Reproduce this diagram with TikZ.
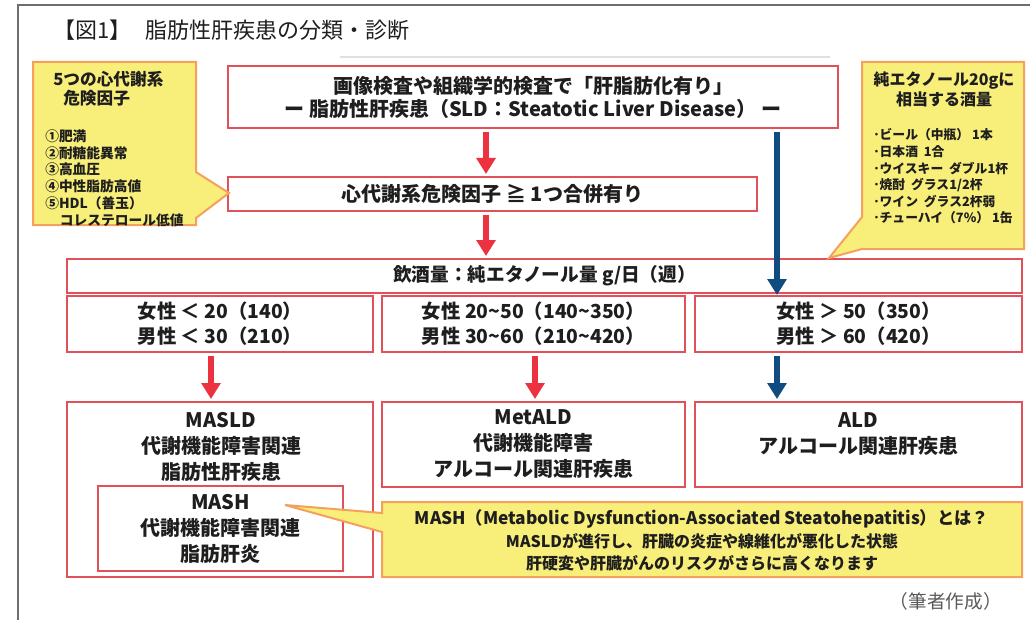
\documentclass[tikz,border=0pt]{standalone}
\usepackage{fontspec}
\newfontfamily\jp{Noto Sans CJK JP}
\usetikzlibrary{arrows.meta}
\newcommand\jfs[2]{\fontsize{#1}{#2}\selectfont}
\newcommand\tld{\char"007E\relax}
\definecolor{boxred}{RGB}{226,80,90}
\definecolor{arrred}{RGB}{236,50,64}
\definecolor{arrblue}{RGB}{16,76,128}
\definecolor{cyel}{RGB}{248,238,122}
\definecolor{corange}{RGB}{245,160,92}
\definecolor{framegrey}{RGB}{110,110,110}
\definecolor{txt}{RGB}{30,30,30}
\tikzset{
  rbox/.style={draw=boxred, line width=1.5pt, fill=white, inner sep=0pt},
  callout/.style={draw=corange, line width=1.5pt, fill=cyel, line join=miter},
  btxt/.style={font=\jp\bfseries, text=txt, align=center, inner sep=0pt},
  ltxt/.style={font=\jp\bfseries, text=txt, align=left, inner sep=0pt, anchor=west},
  redarr/.style={draw=arrred, line width=4pt, -{Triangle[width=14pt,length=12pt]}, shorten <=2pt, shorten >=1.5pt},
  bluearr/.style={draw=arrblue, line width=4pt, -{Triangle[width=14pt,length=12pt]}, shorten <=2pt, shorten >=1.5pt},
}
\begin{document}
\begin{tikzpicture}[x=0.75pt,y=-0.75pt]
\useasboundingbox (0,0) rectangle (1030,620);
% frame
\draw[framegrey, line width=1.2pt] (18,620) -- (18,5) -- (1030,5);
\draw[black!12, line width=0.8pt] (340,57) -- (830,57);
% title
\node[font=\jp\jfs{16.5pt}{18pt}, text=txt, anchor=west, inner sep=0pt] (figlabel) at (53,30) {【図1】};
\node[font=\jp\jfs{16.5pt}{18pt}, text=txt, anchor=west, inner sep=0pt] (title) at (145,30) {脂肪性肝疾患の分類・診断};

% boxes
\node[rbox, btxt, font=\jp\bfseries\jfs{15pt}{17.25pt}, minimum width=457.5pt, minimum height=46.5pt] (top) at (533,97)
  {画像検査や組織学的検査で「肝脂肪化有り」\\ー 脂肪性肝疾患（SLD：Steatotic Liver Disease） ー};
\node[rbox, btxt, font=\jp\bfseries\jfs{15pt}{17pt}, minimum width=396.75pt, minimum height=25.5pt] (risk) at (492.5,194)
  {心代謝系危険因子 ≧ 1つ合併有り};
\node[rbox, btxt, font=\jp\bfseries\jfs{14pt}{16pt}, minimum width=716.25pt, minimum height=25.5pt] (header) at (544.5,276)
  {飲酒量：純エタノール量 g/日（週）};
\node[rbox, btxt, font=\jp\bfseries\jfs{14.5pt}{18.75pt}, minimum width=229.5pt, minimum height=42pt] (sub1) at (220,324)
  {女性 ＜ 20（140）\\男性 ＜ 30（210）};
\node[rbox, btxt, font=\jp\bfseries\jfs{14.5pt}{18.75pt}, minimum width=227.25pt, minimum height=42pt] (sub2) at (533.5,324)
  {女性 20\tld 50（140\tld 350）\\男性 30\tld 60（210\tld 420）};
\node[rbox, btxt, font=\jp\bfseries\jfs{14.5pt}{18.75pt}, minimum width=245.25pt, minimum height=42pt] (sub3) at (858.5,324)
  {女性 ＞ 50（350）\\男性 ＞ 60（420）};

\node[rbox, minimum width=229.5pt, minimum height=131.25pt] (masld) at (220,489.5) {};
\node[btxt, font=\jp\bfseries\jfs{15pt}{19.5pt}] (masldtxt) at (221,447) {MASLD\\代謝機能障害関連\\脂肪性肝疾患};
\node[rbox, btxt, font=\jp\bfseries\jfs{15pt}{19.5pt}, minimum width=183.75pt, minimum height=63.75pt] (mash) at (220.5,528.5)
  {MASH\\代謝機能障害関連\\脂肪肝炎};
\node[rbox, btxt, font=\jp\bfseries\jfs{15pt}{19.5pt}, minimum width=227.25pt, minimum height=63.75pt] (metald) at (533.5,444.5)
  {MetALD\\代謝機能障害\\アルコール関連肝疾患};
\node[rbox, minimum width=245.25pt, minimum height=63.75pt] (ald) at (858.5,444.5) {};
\node[btxt, font=\jp\bfseries\jfs{15pt}{19.5pt}] (aldtxt) at (858.5,434) {ALD\\アルコール関連肝疾患};

% arrows
\coordinate (rx) at (486,0);
\coordinate (bx) at (777,0);
\coordinate (r1) at (211,0);
\coordinate (r2) at (535,0);
\draw[redarr] (top.south -| rx) -- (risk.north -| rx);
\draw[redarr] (risk.south -| rx) -- (header.north -| rx);
\draw[bluearr, shorten >=0pt] (top.south -| bx) -- (sub3.north -| bx);
\draw[redarr] (sub1.south -| r1) -- (masld.north -| r1);
\draw[redarr] (sub2.south -| r2) -- (metald.north -| r2);
\draw[bluearr] (sub3.south -| bx) -- (ald.north -| bx);

% left callout
\draw[callout] (33,62) -- (196,62) -- (196,172) -- (229,193) -- (196,218) -- (196,225) -- (33,225) -- cycle;
\node[ltxt, font=\jp\bfseries\jfs{12.5pt}{14.25pt}] (lctitle) at (53,88.5) {5つの心代謝系\\\hspace*{7.5pt}危険因子};
\node[ltxt, font=\jp\bfseries\jfs{10.3pt}{12.6pt}] (lclist) at (45,178)
  {①肥満\\②耐糖能異常\\③高血圧\\④中性脂肪高値\\⑤HDL（善玉）\\\hspace*{11pt}コレステロール低値};

% right callout
\draw[callout] (862,62) -- (1024,62) -- (1024,249) -- (862,249) -- (829,258) -- (862,217) -- cycle;
\node[btxt, font=\jp\bfseries\jfs{12pt}{15pt}] (rctitle) at (944,89) {純エタノール20gに\\相当する酒量};
\node[ltxt, font=\jp\bfseries\jfs{9.6pt}{12.45pt}] (rclist) at (873,176.5)
  {･ビール（中瓶） 1本\\･日本酒\ \ 1合\\･ウイスキー\ \ ダブル1杯\\･焼酎\ \ グラス1/2杯\\･ワイン\ \ グラス2杯弱\\･チューハイ（7\%） 1缶};

% MASH callout
\draw[callout] (382,502) -- (1022,502) -- (1022,577) -- (382,577) -- (382,532) -- (285,505) -- (382,513) -- cycle;
\node[btxt, font=\jp\bfseries\jfs{13pt}{16.5pt}] (mashq) at (702,519) {MASH（Metabolic Dysfunction-Associated Steatohepatitis）とは？};
\node[btxt, font=\jp\bfseries\jfs{12pt}{16.5pt}] (mashexp) at (702,552) {MASLDが進行し、肝臓の炎症や線維化が悪化した状態\\肝硬変や肝臓がんのリスクがさらに高くなります};

% note
\node[font=\jp\jfs{14pt}{16pt}, text=black!65, anchor=east, inner sep=0pt] (note) at (1002,601) {（筆者作成）};
\end{tikzpicture}
\end{document}
